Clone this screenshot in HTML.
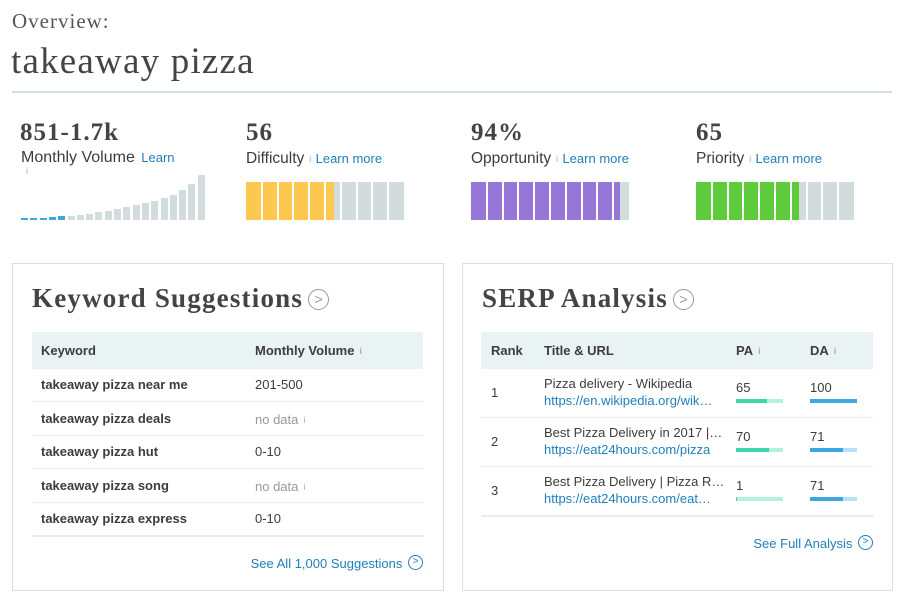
<!DOCTYPE html>
<html><head><meta charset="utf-8"><style>
*{margin:0;padding:0;box-sizing:border-box}
body{width:900px;height:598px;background:#fff;position:relative;overflow:hidden;font-family:"Liberation Sans",sans-serif;color:#3c3c3c}
.a{position:absolute;white-space:nowrap}
.serif{font-family:"Liberation Serif",serif}
.lk{color:#1f7fb9}
.i{font-size:9px;color:#aaa;vertical-align:top;margin-left:5px}
.seg{position:absolute;top:182px;height:38px}
.vb{position:absolute;width:7px;bottom:378px}
.hdr{position:absolute;background:#eaf3f3}
.sep{position:absolute;height:1px;background:#e6eeee}
.circ{display:inline-block;border:1.5px solid #999;border-radius:50%;text-align:center;color:#999}
.num{font-size:25px;font-weight:bold;color:#444;line-height:32px;letter-spacing:1px}
.lab{font-size:15.5px;line-height:18px}
.sc{border-color:#1f7fb9;color:#1f7fb9;width:15px;height:15px;font-size:10px;line-height:12px;margin-left:2px;vertical-align:middle;position:relative;top:-2px}
</style></head><body>
<div class="a serif" style="left:12px;top:8px;font-size:21px;color:#555;line-height:26px;letter-spacing:1px">Overview:</div>
<div class="a serif" style="left:11px;top:40px;font-size:37px;color:#444;line-height:44px;letter-spacing:1.2px">takeaway pizza</div>
<div class="a" style="left:12px;top:91px;width:880px;height:2px;background:#d3dede"></div>

<div class="a serif num" style="left:20px;top:117px">851-1.7k</div>
<div class="a lab" style="left:21px;top:149px;font-size:16px">Monthly Volume <span class="lk" style="font-size:13px;margin-left:2px">Learn</span></div>
<div class="a" style="left:26px;top:166px;font-size:9px;color:#aaa">i</div>

<div class="a serif num" style="left:246px;top:117px">56</div>
<div class="a lab" style="left:246px;top:150px">Difficulty<span class="i">i</span> <span class="lk" style="font-size:13px">Learn more</span></div>
<div class="a serif num" style="left:471px;top:117px">94%</div>
<div class="a lab" style="left:471px;top:150px">Opportunity<span class="i">i</span> <span class="lk" style="font-size:13px">Learn more</span></div>
<div class="a serif num" style="left:696px;top:117px">65</div>
<div class="a lab" style="left:696px;top:150px">Priority<span class="i">i</span> <span class="lk" style="font-size:13px">Learn more</span></div>

<div id="bars"></div>

<div class="a" style="left:12px;top:263px;width:432px;height:328px;border:1.5px solid #d9e2e2"></div>
<div class="a" style="left:462px;top:263px;width:431px;height:328px;border:1.5px solid #d9e2e2"></div>

<div class="a serif" style="left:32px;top:282px;font-size:27px;font-weight:bold;color:#444;line-height:32px;letter-spacing:1.2px">Keyword Suggestions<span class="circ" style="width:21px;height:21px;font-size:14px;line-height:18px;font-family:'Liberation Sans';font-weight:normal;vertical-align:3px;letter-spacing:0;margin-left:5px">&gt;</span></div>
<div class="a serif" style="left:482px;top:282px;font-size:27px;font-weight:bold;color:#444;line-height:32px;letter-spacing:1.2px">SERP Analysis<span class="circ" style="width:21px;height:21px;font-size:14px;line-height:18px;font-family:'Liberation Sans';font-weight:normal;vertical-align:3px;letter-spacing:0;margin-left:5px">&gt;</span></div>

<div class="hdr" style="left:32px;top:332px;width:391px;height:37px"></div>
<div class="a" style="left:41px;top:343px;font-size:13px;font-weight:bold;line-height:16px">Keyword</div>
<div class="a" style="left:255px;top:343px;font-size:13px;font-weight:bold;line-height:16px">Monthly Volume<span class="i">i</span></div>

<div class="a" style="left:41px;top:377px;font-size:13px;font-weight:bold;line-height:16px">takeaway pizza near me</div>
<div class="a" style="left:255px;top:377px;font-size:13px;line-height:16px">201-500</div>
<div class="sep" style="left:32px;top:401px;width:391px"></div>
<div class="a" style="left:41px;top:411px;font-size:13px;font-weight:bold;line-height:16px">takeaway pizza deals</div>
<div class="a" style="left:255px;top:412px;font-size:13px;line-height:16px;color:#999">no data<span class="i">i</span></div>
<div class="sep" style="left:32px;top:435px;width:391px"></div>
<div class="a" style="left:41px;top:444px;font-size:13px;font-weight:bold;line-height:16px">takeaway pizza hut</div>
<div class="a" style="left:255px;top:444px;font-size:13px;line-height:16px">0-10</div>
<div class="sep" style="left:32px;top:468px;width:391px"></div>
<div class="a" style="left:41px;top:478px;font-size:13px;font-weight:bold;line-height:16px">takeaway pizza song</div>
<div class="a" style="left:255px;top:479px;font-size:13px;line-height:16px;color:#999">no data<span class="i">i</span></div>
<div class="sep" style="left:32px;top:502px;width:391px"></div>
<div class="a" style="left:41px;top:511px;font-size:13px;font-weight:bold;line-height:16px">takeaway pizza express</div>
<div class="a" style="left:255px;top:511px;font-size:13px;line-height:16px">0-10</div>
<div class="sep" style="left:32px;top:535px;width:391px;height:2px"></div>
<div class="a lk" style="right:477px;top:556px;font-size:13px;line-height:16px">See All 1,000 Suggestions <span class="circ sc">&gt;</span></div>

<div class="hdr" style="left:481px;top:332px;width:392px;height:37px"></div>
<div class="a" style="left:491px;top:343px;font-size:13px;font-weight:bold;line-height:16px">Rank</div>
<div class="a" style="left:544px;top:343px;font-size:13px;font-weight:bold;line-height:16px">Title &amp; URL</div>
<div class="a" style="left:736px;top:343px;font-size:13px;font-weight:bold;line-height:16px">PA<span class="i">i</span></div>
<div class="a" style="left:810px;top:343px;font-size:13px;font-weight:bold;line-height:16px">DA<span class="i">i</span></div>

<div id="serp"></div>
<div class="a lk" style="right:27px;top:536px;font-size:13px;line-height:16px">See Full Analysis <span class="circ sc">&gt;</span></div>

<script>
var h='';
function segs(x0,frac,col){
 var W=158;
 h+='<div class="seg" style="left:'+x0+'px;width:'+W+'px;background:#d3dcdc"></div>';
 h+='<div class="seg" style="left:'+x0+'px;width:'+Math.round(W*frac)+'px;background:'+col+'"></div>';
 for(var k=1;k<10;k++){
  h+='<div class="seg" style="left:'+Math.round(x0+k*15.8-1)+'px;width:2px;background:#fff"></div>';
 }
}
segs(246,0.56,'#fdc84f');segs(471,0.94,'#9677d8');segs(696,0.65,'#5ecb3d');
var hs=[2,2,2,3,4,4,5,6,8,9,11,13,15,17,19,22,25,30,36,45];
for(var i=0;i<20;i++){
 h+='<div class="vb" style="left:'+(21+i*9.3).toFixed(1)+'px;height:'+hs[i]+'px;background:'+(i<5?'#3fa7e0':'#d3dcdc')+'"></div>';
}
document.getElementById('bars').innerHTML=h;
var rows=[[1,'Pizza delivery - Wikipedia','https://en.wikipedia.org/wik…',65,100],[2,'Best Pizza Delivery in 2017 |…','https://eat24hours.com/pizza',70,71],[3,'Best Pizza Delivery | Pizza R…','https://eat24hours.com/eat…',1,71]];
var s='';
for(var r=0;r<3;r++){
 var y=378+r*49;
 var d=rows[r];
 s+='<div class="a" style="left:491px;top:'+(y+7)+'px;font-size:13px;line-height:16px">'+d[0]+'</div>';
 s+='<div class="a" style="left:544px;top:'+(y-2)+'px;font-size:13px;line-height:16px">'+d[1]+'</div>';
 s+='<div class="a lk" style="left:544px;top:'+(y+15)+'px;font-size:13px;line-height:16px">'+d[2]+'</div>';
 s+='<div class="a" style="left:736px;top:'+(y+2)+'px;font-size:13px;line-height:16px">'+d[3]+'</div>';
 s+='<div class="a" style="left:810px;top:'+(y+2)+'px;font-size:13px;line-height:16px">'+d[4]+'</div>';
 s+='<div class="a" style="left:736px;top:'+(y+21)+'px;width:47px;height:4px;background:#b5f1e0"></div>';
 s+='<div class="a" style="left:736px;top:'+(y+21)+'px;width:'+(47*d[3]/100)+'px;height:4px;background:#3ed6aa"></div>';
 s+='<div class="a" style="left:810px;top:'+(y+21)+'px;width:47px;height:4px;background:#b5e2fa"></div>';
 s+='<div class="a" style="left:810px;top:'+(y+21)+'px;width:'+(47*d[4]/100)+'px;height:4px;background:#3fa7e0"></div>';
 s+='<div class="sep" style="left:481px;top:'+(y+39)+'px;width:392px;'+(r==2?'height:2px':'')+'"></div>';
}
document.getElementById('serp').innerHTML=s;
</script>
</body></html>
